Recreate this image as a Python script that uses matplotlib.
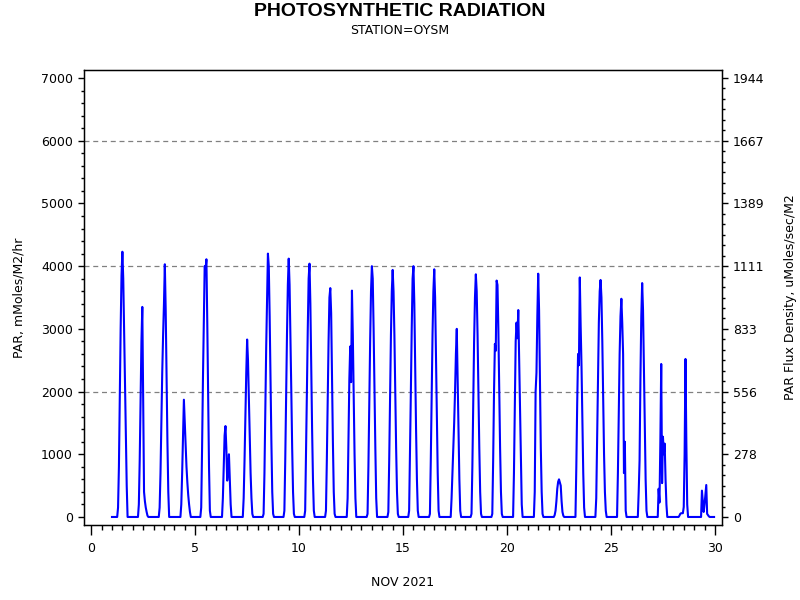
import matplotlib
matplotlib.use("Agg")
import matplotlib.pyplot as plt
from matplotlib.ticker import MultipleLocator, FixedLocator
import numpy as np

# Hourly PAR readings, station OYSM, November 2021 (mMoles/M2/hr)
days = list(range(1, 30))
day_hours = list(range(6, 20))  # hours covered by each daytime row; other hours read 0
par_daytime = [
    [0, 150, 800, 1900, 3000, 3850, 4230, 3800, 3000, 2200, 1300, 500, 0, 0],
    [0, 200, 900, 1900, 2800, 3350, 1800, 400, 250, 150, 80, 20, 0, 0],
    [0, 150, 700, 1500, 2300, 2900, 3400, 4030, 3300, 2200, 1200, 400, 0, 0],
    [0, 0, 200, 700, 1300, 1870, 1500, 1100, 800, 550, 350, 200, 80, 0],
    [0, 150, 1100, 2200, 3100, 4000, 3950, 4110, 3100, 1900, 800, 100, 0, 0],
    [0, 0, 300, 800, 1300, 1450, 1100, 580, 750, 1000, 600, 200, 0, 0],
    [0, 0, 300, 900, 1600, 2300, 2830, 2500, 1900, 1300, 700, 300, 50, 0],
    [0, 50, 700, 1700, 2700, 3500, 4200, 4000, 3200, 2200, 1200, 400, 50, 0],
    [0, 100, 900, 1900, 2900, 3700, 4120, 3700, 2900, 2000, 1100, 400, 50, 0],
    [0, 100, 1000, 2000, 3000, 3800, 4040, 3400, 2400, 1400, 600, 100, 0, 0],
    [0, 100, 900, 1900, 2800, 3500, 3650, 3250, 2200, 1200, 400, 50, 0, 0],
    [0, 0, 300, 1200, 2200, 2720, 2150, 3610, 2900, 1900, 1000, 300, 0, 0],
    [0, 50, 800, 1800, 2800, 3600, 4000, 3800, 3000, 2000, 1100, 300, 0, 0],
    [0, 80, 900, 1900, 2900, 3600, 3940, 3600, 2900, 2000, 1100, 400, 50, 0],
    [0, 100, 1000, 2000, 3000, 3800, 4000, 3400, 2400, 1400, 600, 100, 0, 0],
    [0, 50, 900, 1900, 2900, 3600, 3950, 3500, 2600, 1600, 700, 100, 0, 0],
    [0, 0, 300, 700, 1100, 1500, 2000, 2600, 3000, 2200, 1300, 600, 100, 0],
    [0, 50, 800, 1800, 2800, 3500, 3870, 3600, 2900, 2000, 1100, 400, 50, 0],
    [0, 50, 900, 2000, 2760, 2650, 3770, 3700, 3000, 2000, 1100, 400, 50, 0],
    [0, 0, 700, 1800, 2800, 3100, 2850, 3300, 2500, 1600, 800, 200, 0, 0],
    [0, 0, 400, 2000, 2300, 3200, 3880, 3300, 2200, 1100, 400, 50, 0, 0],
    [0, 30, 100, 250, 450, 560, 600, 550, 500, 250, 80, 20, 0, 0],
    [0, 0, 800, 1800, 2600, 2420, 3820, 3050, 2400, 1500, 700, 150, 0, 0],
    [0, 300, 1200, 2200, 3100, 3600, 3780, 3500, 2800, 1900, 1000, 400, 100, 0],
    [0, 0, 700, 1700, 2600, 3200, 3480, 3100, 2600, 700, 1200, 100, 0, 0],
    [0, 0, 400, 900, 2200, 3200, 3730, 3300, 2400, 1400, 600, 100, 0, 0],
    [0, 450, 230, 1200, 2440, 540, 1280, 1000, 1170, 600, 200, 0, 0, 0],
    [0, 20, 50, 60, 60, 60, 160, 1000, 2520, 1200, 200, 0, 0, 0],
    [0, 0, 0, 420, 250, 80, 200, 350, 510, 50, 30, 10, 0, 0],
]

left_ticks = [0, 1000, 2000, 3000, 4000, 5000, 6000, 7000]
grid_levels = [2000, 4000, 6000]
flux_factor = 3.6  # mMoles/M2/hr -> uMoles/sec/M2

# build the hourly time axis (day of month + fraction of day)
times = []
values = []
for d, row in zip(days, par_daytime):
    for h in range(24):
        times.append(d + h / 24.0)
        if h in day_hours:
            values.append(row[day_hours.index(h)])
        else:
            values.append(0)

fig = plt.figure(figsize=(8, 6), dpi=100)
ax = fig.add_axes([0.105, 0.125, 0.7975, 0.7583])

ax.plot(times, values, color="#0000ff", linewidth=1.5)

for lvl in grid_levels:
    ax.axhline(lvl, color="#808080", linestyle=(0, (4, 3)), linewidth=0.9, zorder=0)

ax.set_xlim(-0.346, 30.34)
ax.set_ylim(-128, 7128)
ax.xaxis.set_major_locator(MultipleLocator(5))
ax.xaxis.set_minor_locator(MultipleLocator(0.5))
ax.yaxis.set_major_locator(FixedLocator(left_ticks))
ax.yaxis.set_minor_locator(MultipleLocator(200))

ax.tick_params(axis="x", which="major", direction="out", length=7, width=1, labelsize=9, pad=5)
ax.tick_params(axis="x", which="minor", direction="out", length=3.5, width=1)
ax.tick_params(axis="y", which="major", direction="out", length=4.5, width=1, labelsize=9)
ax.tick_params(axis="y", which="minor", direction="out", length=2.5, width=1)

for s in ax.spines.values():
    s.set_linewidth(1)

ax.set_xlabel("NOV 2021", fontsize=9, labelpad=15)
ax.set_ylabel("PAR, mMoles/M2/hr", fontsize=9, labelpad=11)

# right axis in flux density units
ax2 = ax.twinx()
ax2.set_ylim(-128 / flux_factor, 7128 / flux_factor)
right_pos = [t / flux_factor for t in left_ticks]
ax2.yaxis.set_major_locator(FixedLocator(right_pos))
ax2.set_yticklabels([str(int(round(p))) for p in right_pos])
ax2.yaxis.set_minor_locator(MultipleLocator(1000 / flux_factor / 6))
ax2.tick_params(axis="y", which="major", direction="out", length=4.5, width=1, labelsize=9)
ax2.tick_params(axis="y", which="minor", direction="out", length=2.5, width=1)
ax2.set_ylabel("PAR Flux Density, uMoles/sec/M2", fontsize=9, labelpad=14)

fig.text(0.5, 0.981, "PHOTOSYNTHETIC RADIATION", ha="center", va="center",
         fontsize=14, fontweight="bold", family="Liberation Sans")
fig.text(0.5, 0.949, "STATION=OYSM", ha="center", va="center", fontsize=9)

fig.savefig("out.png", dpi=100)
